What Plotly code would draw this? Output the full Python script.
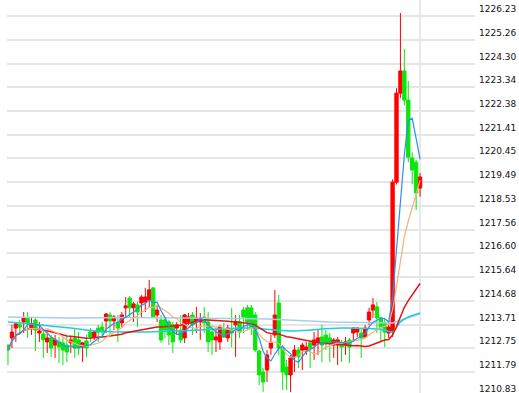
import plotly.graph_objects as go
import pandas as pd

# ---- data ----
opens = [1212.88, 1213.17, 1213.57, 1213.70, 1213.82, 1213.98, 1213.57, 1213.90, 1213.37, 1213.33,
         1213.01, 1213.17, 1212.88, 1213.01, 1212.97, 1212.88, 1212.97, 1213.17, 1213.09, 1212.80,
         1213.05, 1213.41, 1213.21, 1213.57, 1213.61, 1213.86, 1214.10, 1213.86, 1213.78, 1213.78,
         1214.39, 1214.79, 1214.39, 1214.51, 1214.59, 1214.63, 1214.71, 1215.20, 1214.10, 1213.90,
         1213.90, 1213.82, 1213.70, 1213.57, 1213.49, 1213.17, 1213.82, 1214.10, 1213.82, 1213.82,
         1214.02, 1213.82, 1213.41, 1213.09, 1213.01, 1213.49, 1213.17, 1213.49, 1213.70, 1213.82,
         1214.30, 1214.39, 1214.39, 1214.10, 1212.64, 1211.79, 1211.87, 1212.76, 1213.29, 1214.59,
         1212.76, 1211.99, 1211.67, 1212.40, 1212.68, 1212.68, 1212.68, 1212.97, 1212.88, 1212.97,
         1213.21, 1213.29, 1213.17, 1212.88, 1212.88, 1212.97, 1212.88, 1213.09, 1213.37, 1213.41,
         1213.37, 1213.21, 1213.90, 1214.30, 1214.43, 1213.98, 1213.78, 1213.37, 1213.45, 1219.49,
         1223.10, 1224.00, 1222.82, 1220.47, 1220.30, 1219.25]
highs = [1212.88, 1213.70, 1213.78, 1213.90, 1214.22, 1214.22, 1214.02, 1214.02, 1213.82, 1213.49,
         1213.37, 1213.29, 1213.29, 1213.21, 1213.17, 1213.21, 1213.21, 1213.57, 1213.41, 1213.01,
         1213.29, 1213.57, 1213.49, 1213.70, 1213.82, 1214.18, 1214.22, 1214.10, 1214.10, 1214.22,
         1214.83, 1214.87, 1214.63, 1214.63, 1214.91, 1215.20, 1215.52, 1215.24, 1214.51, 1214.10,
         1213.98, 1213.90, 1213.82, 1213.82, 1214.10, 1214.14, 1214.18, 1214.22, 1214.43, 1214.18,
         1214.43, 1214.22, 1213.61, 1213.57, 1213.70, 1213.78, 1213.70, 1214.39, 1214.10, 1214.10,
         1214.43, 1214.51, 1214.51, 1214.22, 1212.68, 1211.95, 1212.68, 1213.29, 1215.12, 1214.91,
         1212.88, 1212.28, 1212.48, 1212.88, 1212.80, 1212.97, 1213.01, 1213.09, 1213.41, 1213.49,
         1213.70, 1213.49, 1213.37, 1213.17, 1213.21, 1213.09, 1213.21, 1213.17, 1213.61, 1213.61,
         1213.57, 1213.70, 1214.39, 1214.79, 1214.63, 1214.02, 1213.98, 1213.82, 1219.60, 1223.30,
         1226.35, 1224.89, 1223.60, 1220.70, 1220.40, 1219.86]
lows = [1212.07, 1212.76, 1213.01, 1213.29, 1213.37, 1213.17, 1213.29, 1212.64, 1213.01, 1212.36,
        1212.56, 1212.40, 1212.36, 1212.15, 1212.07, 1212.19, 1212.56, 1212.36, 1212.48, 1212.19,
        1212.40, 1213.01, 1213.09, 1213.01, 1213.17, 1213.37, 1213.29, 1213.49, 1213.01, 1213.57,
        1213.98, 1213.98, 1213.82, 1213.61, 1213.98, 1214.22, 1214.39, 1213.98, 1213.82, 1212.97,
        1213.17, 1212.88, 1212.56, 1213.29, 1212.97, 1212.97, 1213.70, 1213.29, 1213.37, 1213.09,
        1213.37, 1212.60, 1212.48, 1212.60, 1212.68, 1213.17, 1213.01, 1212.80, 1212.40, 1213.17,
        1213.37, 1213.49, 1213.29, 1212.60, 1211.26, 1210.98, 1211.38, 1212.48, 1213.17, 1212.48,
        1211.06, 1211.06, 1210.98, 1211.79, 1211.95, 1211.87, 1212.48, 1211.95, 1212.28, 1212.48,
        1212.19, 1212.68, 1212.19, 1212.36, 1212.07, 1212.19, 1212.48, 1212.15, 1213.01, 1213.21,
        1212.36, 1213.17, 1213.70, 1213.98, 1213.37, 1213.01, 1212.80, 1213.17, 1213.21, 1219.40,
        1222.90, 1222.60, 1220.30, 1219.40, 1218.36, 1218.90]
closes = [1212.68, 1213.41, 1213.74, 1213.61, 1213.98, 1213.78, 1213.70, 1213.49, 1213.45, 1213.09,
          1213.17, 1212.76, 1213.09, 1212.80, 1212.68, 1212.60, 1213.09, 1212.76, 1212.76, 1212.97,
          1212.76, 1213.21, 1213.41, 1213.41, 1213.41, 1214.14, 1213.86, 1214.02, 1213.57, 1214.10,
          1214.47, 1214.39, 1214.55, 1214.22, 1214.83, 1214.83, 1215.12, 1214.02, 1214.30, 1213.09,
          1213.49, 1213.29, 1213.01, 1213.70, 1213.09, 1214.10, 1214.02, 1213.70, 1213.98, 1213.98,
          1213.78, 1213.01, 1213.09, 1213.21, 1213.61, 1213.21, 1213.57, 1213.37, 1213.82, 1213.41,
          1214.02, 1213.82, 1213.61, 1212.68, 1211.67, 1211.38, 1212.48, 1212.97, 1214.10, 1212.76,
          1211.79, 1211.67, 1212.36, 1212.68, 1212.40, 1212.88, 1212.80, 1212.76, 1213.09, 1213.17,
          1212.88, 1212.97, 1212.97, 1213.09, 1213.09, 1212.80, 1213.01, 1212.80, 1213.57, 1213.57,
          1213.17, 1213.57, 1214.22, 1214.51, 1213.98, 1213.61, 1213.41, 1213.61, 1219.49, 1223.10,
          1224.00, 1222.82, 1220.50, 1219.98, 1219.05, 1219.70]

# long moving averages at sample candles
ma60_idx = [0, 8, 16, 23, 32, 49, 62, 72, 85, 96, 98, 100, 102, 105]
ma60_val = [1213.82, 1213.70, 1213.57, 1213.45, 1213.41, 1213.49, 1213.57, 1213.45, 1213.57,
            1213.49, 1213.41, 1213.82, 1214.02, 1214.18]
ma120_idx = [0, 16, 32, 49, 66, 82, 96, 98, 101, 105]
ma120_val = [1214.02, 1213.98, 1214.00, 1213.98, 1213.94, 1213.82, 1213.78, 1213.78, 1213.94, 1214.14]

tick_vals = [1226.23, 1225.26, 1224.30, 1223.34, 1222.38, 1221.41, 1220.45, 1219.49, 1218.53,
             1217.56, 1216.60, 1215.64, 1214.68, 1213.71, 1212.75, 1211.79, 1210.83]
tick_text = ["1226.23", "1225.26", "1224.30", "1223.34", "1222.38", "1221.41", "1220.45", "1219.49",
             "1218.53", "1217.56", "1216.60", "1215.64", "1214.68", "1213.71", "1212.75", "1211.79",
             "1210.83"]

# ---- styles ----
RED = "#ff0000"
GREEN = "#0be60b"
Y0, Y1 = 1210.936, 1226.879
X0, X1 = -0.25, 119.0

idx = list(range(len(closes)))
s = pd.Series(closes)
ma5 = s.rolling(5, min_periods=1).mean()
ma10 = s.rolling(10, min_periods=1).mean()
ma30 = s.rolling(30, min_periods=1).mean()

fig = go.Figure()
fig.add_trace(go.Candlestick(
    x=idx, open=opens, high=highs, low=lows, close=closes,
    increasing=dict(line=dict(color=RED, width=1), fillcolor=RED),
    decreasing=dict(line=dict(color=GREEN, width=1), fillcolor=GREEN),
    whiskerwidth=0, showlegend=False, hoverinfo="skip"))

fig.add_trace(go.Scatter(x=ma120_idx, y=ma120_val, mode="lines",
                         line=dict(color="#a8cdec", width=1.5), showlegend=False, hoverinfo="skip"))
fig.add_trace(go.Scatter(x=ma60_idx, y=ma60_val, mode="lines",
                         line=dict(color="#1fcde0", width=1.5, shape="spline"), showlegend=False, hoverinfo="skip"))
fig.add_trace(go.Scatter(x=idx, y=ma30, mode="lines",
                         line=dict(color="#e51414", width=1.5), showlegend=False, hoverinfo="skip"))
fig.add_trace(go.Scatter(x=idx, y=ma10, mode="lines",
                         line=dict(color="#f2b07c", width=1.2), showlegend=False, hoverinfo="skip"))
fig.add_trace(go.Scatter(x=idx, y=ma5, mode="lines",
                         line=dict(color="#2b8ff0", width=1.2), showlegend=False, hoverinfo="skip"))

# vertical marker at the last candle
fig.add_shape(type="line", xref="x", yref="paper", x0=idx[-1], x1=idx[-1], y0=0, y1=1,
              line=dict(color="#e2e2e2", width=1.5), layer="below")

for v, t in zip(tick_vals, tick_text):
    fig.add_annotation(xref="paper", yref="paper", x=1, xshift=2,
                       y=(v - Y0) / (Y1 - Y0), yanchor="bottom", xanchor="left",
                       text=t, showarrow=False,
                       font=dict(family="DejaVu Sans", size=9, color="#111111"))

fig.update_layout(
    width=519, height=393,
    margin=dict(l=7, r=44, t=0, b=0),
    paper_bgcolor="white", plot_bgcolor="white",
    boxgap=0.15, boxgroupgap=0,
    xaxis=dict(range=[X0, X1], showgrid=False, showticklabels=False, zeroline=False,
               rangeslider=dict(visible=False), showline=False, ticks=""),
    yaxis=dict(range=[Y0, Y1], tickvals=tick_vals, showticklabels=False, showgrid=True,
               gridcolor="#e6e6e6", gridwidth=1.5, zeroline=False, showline=False, ticks=""),
    hovermode=False,
)

fig.write_html("out.html")
